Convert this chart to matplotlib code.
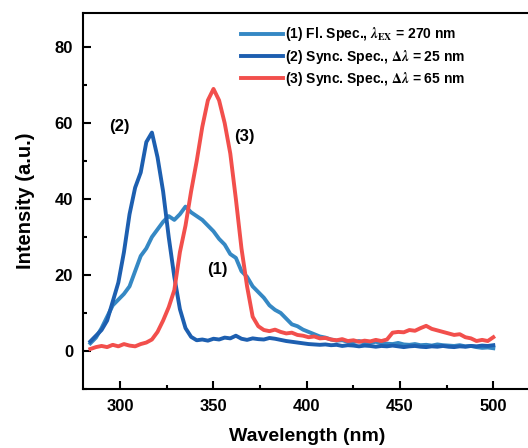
import numpy as np
import matplotlib
matplotlib.use("Agg")
import matplotlib.pyplot as plt
from matplotlib.ticker import MultipleLocator

plt.rcParams['font.family'] = ['Liberation Sans', 'DejaVu Sans']
plt.rcParams['font.weight'] = 'bold'
plt.rcParams['mathtext.fontset'] = 'stix'

# wavelength grid (nm), 3 nm step
wavelength = [284, 287, 290, 293, 296, 299, 302, 305, 308, 311, 314, 317, 320, 323,
              326, 329, 332, 335, 338, 341, 344, 347, 350, 353, 356, 359, 362, 365,
              368, 371, 374, 377, 380, 383, 386, 389, 392, 395, 398, 401, 404, 407,
              410, 413, 416, 419, 422, 425, 428, 431, 434, 437, 440, 443, 446, 449,
              452, 455, 458, 461, 464, 467, 470, 473, 476, 479, 482, 485, 488, 491,
              494, 497, 500]

# (1) fluorescence spectrum, lambda_ex = 270 nm
fl_spec = [2.0, 3.5, 6.0, 9.0, 12.0, 13.5, 15.0, 17.0, 21.0, 25.0, 27.0, 30.0, 32.0, 34.0,
           35.5, 34.5, 36.0, 38.0, 36.5, 35.5, 34.5, 33.0, 31.5, 29.5, 28.0, 25.5, 24.5, 21.0,
           19.5, 17.0, 15.5, 14.0, 12.0, 10.8, 10.0, 8.5, 7.0, 6.5, 5.6, 5.0, 4.4, 3.8,
           3.5, 3.0, 2.7, 2.8, 2.4, 2.3, 2.6, 2.2, 2.1, 2.4, 2.0, 1.9, 1.8, 2.1,
           1.7, 1.6, 1.8, 1.5, 1.6, 1.4, 1.7, 1.5, 1.4, 1.3, 1.5, 1.2, 1.3, 1.0,
           0.8, 0.9, 0.7]

# (2) synchronous spectrum, d-lambda = 25 nm
sync_25 = [2.5, 4.0, 5.5, 8.0, 13.0, 18.0, 26.0, 36.0, 43.0, 47.0, 55.0, 57.5, 51.0, 42.0,
           30.0, 19.5, 11.0, 6.0, 3.7, 2.8, 3.0, 2.7, 3.2, 3.0, 3.5, 3.3, 4.0, 3.2,
           2.9, 3.3, 3.1, 3.0, 3.4, 3.2, 2.9, 2.6, 2.4, 2.2, 2.0, 1.8, 1.7, 1.6,
           1.7, 1.5, 1.6, 1.3, 1.5, 1.4, 1.2, 1.4, 1.3, 1.1, 1.3, 1.2, 1.4, 1.2,
           1.0, 1.2, 1.3, 1.1, 1.0, 1.2, 1.1, 1.3, 1.1, 1.0, 1.2, 1.1, 1.3, 1.2,
           1.4, 1.3, 1.5]

# (3) synchronous spectrum, d-lambda = 65 nm
sync_65 = [0.5, 1.0, 1.3, 1.0, 1.6, 1.2, 1.8, 1.4, 1.2, 1.8, 2.2, 3.0, 5.0, 8.0,
           11.5, 16.0, 26.0, 33.0, 42.0, 50.0, 59.0, 66.0, 69.0, 66.0, 60.0, 52.0, 40.0, 27.0,
           17.0, 9.0, 6.5, 5.5, 5.2, 5.6, 5.0, 4.6, 4.8, 4.2, 4.0, 3.6, 3.8, 3.3,
           3.4, 3.0, 2.8, 3.1, 2.6, 2.8, 2.4, 2.7, 2.5, 2.9, 2.6, 3.0, 4.8, 5.0,
           4.9, 5.5, 5.3, 6.0, 6.6, 5.8, 5.4, 5.0, 4.6, 4.2, 4.4, 3.6, 3.3, 2.6,
           2.9, 2.6, 3.6]

labels = [r'(1) Fl. Spec., $\lambda_{\mathrm{EX}}$ = 270 nm',
          r'(2) Sync. Spec., $\Delta\lambda$ = 25 nm',
          r'(3) Sync. Spec., $\Delta\lambda$ = 65 nm']
colors = ['#3588c4', '#1d5fb0', '#f24f4c']

fig = plt.figure(figsize=(5.28, 4.48), dpi=100)
ax = fig.add_axes([0.157, 0.132, 0.848, 0.839])

for ys, lab, c in zip([fl_spec, sync_25, sync_65], labels, colors):
    ax.plot(wavelength, ys, color=c, lw=2.8, label=lab)

ax.set_xlim(280, 520)
ax.set_ylim(-10, 89)
ax.xaxis.set_major_locator(MultipleLocator(50))
ax.xaxis.set_minor_locator(MultipleLocator(25))
ax.yaxis.set_major_locator(MultipleLocator(20))
ax.yaxis.set_minor_locator(MultipleLocator(10))
ax.tick_params(which='both', direction='in', width=1.5, labelsize=12)
ax.tick_params(which='major', length=6, pad=7)
ax.tick_params(which='minor', length=3)
for s in ax.spines.values():
    s.set_linewidth(1.5)

ax.set_xlabel('Wavelength (nm)', fontsize=14, fontweight='bold', labelpad=10.5)
ax.set_ylabel('Intensity (a.u.)', fontsize=14.5, fontweight='bold', labelpad=14)

# curve annotations
ax.text(299.5, 59, '(2)', fontsize=12, fontweight='bold', ha='center', va='center')
ax.text(366.5, 56.5, '(3)', fontsize=12, fontweight='bold', ha='center', va='center')
ax.text(352, 21.4, '(1)', fontsize=12, fontweight='bold', ha='center', va='center')

ax.legend(loc='upper left', bbox_to_anchor=(0.325, 1.0), frameon=False, fontsize=10,
          handlelength=3.0, handletextpad=0.2, labelspacing=0.3)

fig.savefig('out.png', dpi=100)
